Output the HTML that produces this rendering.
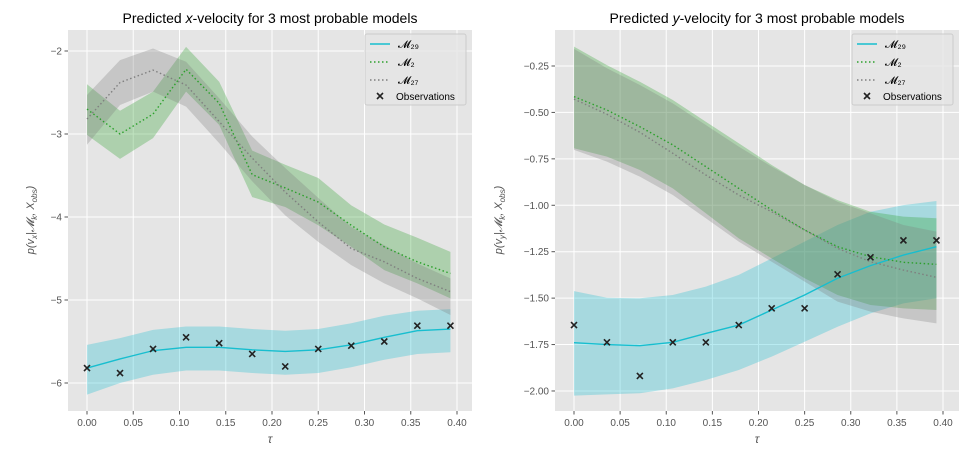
<!DOCTYPE html>
<html><head><meta charset="utf-8"><style>
body{margin:0;background:#fff;font-family:"Liberation Sans","DejaVu Sans",sans-serif}
svg text{font-family:"Liberation Sans","DejaVu Sans",sans-serif}
</style></head><body>
<svg id="chart" width="977" height="450" xmlns="http://www.w3.org/2000/svg"></svg>
<script>
const tau=[0,0.0357,0.0714,0.1071,0.1429,0.1786,0.2143,0.25,0.2857,0.3214,0.3571,0.3929];
const xTicks=[0,0.05,0.1,0.15,0.2,0.25,0.3,0.35,0.4];
const xTickLabels=["0.00","0.05","0.10","0.15","0.20","0.25","0.30","0.35","0.40"];
// left panel
const L_m29=[-5.82,-5.71,-5.61,-5.57,-5.57,-5.60,-5.62,-5.60,-5.54,-5.45,-5.37,-5.35];
const L_m29_hi=[-5.54,-5.46,-5.36,-5.32,-5.32,-5.35,-5.37,-5.35,-5.28,-5.19,-5.13,-5.11];
const L_m29_lo=[-6.14,-6.0,-5.90,-5.85,-5.85,-5.88,-5.90,-5.88,-5.81,-5.72,-5.65,-5.63];
const L_m2=[-2.70,-3.00,-2.76,-2.22,-2.63,-3.49,-3.65,-3.82,-4.10,-4.36,-4.54,-4.68];
const L_m2_hi=[-2.40,-2.72,-2.49,-1.95,-2.37,-3.20,-3.37,-3.53,-3.86,-4.09,-4.25,-4.42];
const L_m2_lo=[-3.01,-3.30,-3.05,-2.49,-2.89,-3.76,-3.88,-4.10,-4.36,-4.64,-4.80,-4.98];
const L_m27=[-2.82,-2.38,-2.23,-2.41,-2.85,-3.29,-3.70,-4.06,-4.38,-4.54,-4.74,-4.90];
const L_m27_hi=[-2.53,-2.11,-1.97,-2.13,-2.57,-3.03,-3.41,-3.77,-4.12,-4.34,-4.56,-4.74];
const L_m27_lo=[-3.13,-2.65,-2.49,-2.67,-3.11,-3.57,-3.98,-4.30,-4.58,-4.80,-4.98,-5.18];
const L_obs=[-5.82,-5.88,-5.59,-5.45,-5.52,-5.65,-5.80,-5.59,-5.55,-5.50,-5.31,-5.31];
const L_yTicks=[-2,-3,-4,-5,-6];
const L_yTickLabels=["−2","−3","−4","−5","−6"];
// right panel
const R_m29=[-1.74,-1.75,-1.756,-1.738,-1.69,-1.645,-1.564,-1.483,-1.393,-1.325,-1.268,-1.223];
const R_m29_hi=[-1.462,-1.498,-1.501,-1.483,-1.438,-1.375,-1.286,-1.196,-1.106,-1.035,-0.999,-0.977];
const R_m29_lo=[-2.025,-2.018,-2.012,-1.986,-1.941,-1.887,-1.815,-1.735,-1.654,-1.582,-1.528,-1.501];
const R_m2=[-0.415,-0.487,-0.577,-0.675,-0.792,-0.909,-1.025,-1.133,-1.223,-1.277,-1.307,-1.318];
const R_m2_hi=[-0.146,-0.245,-0.335,-0.433,-0.55,-0.666,-0.783,-0.891,-0.972,-1.035,-1.061,-1.07];
const R_m2_lo=[-0.693,-0.738,-0.81,-0.909,-1.043,-1.178,-1.286,-1.393,-1.483,-1.537,-1.555,-1.564];
const R_m27=[-0.428,-0.51,-0.607,-0.72,-0.837,-0.945,-1.035,-1.133,-1.232,-1.304,-1.349,-1.388];
const R_m27_hi=[-0.158,-0.262,-0.352,-0.451,-0.568,-0.684,-0.792,-0.891,-0.981,-1.043,-1.106,-1.142];
const R_m27_lo=[-0.702,-0.765,-0.846,-0.945,-1.07,-1.196,-1.304,-1.411,-1.519,-1.573,-1.609,-1.636];
const R_obs=[-1.645,-1.738,-1.919,-1.738,-1.738,-1.645,-1.555,-1.555,-1.372,-1.280,-1.189,-1.189];
const R_yTicks=[-0.25,-0.5,-0.75,-1,-1.25,-1.5,-1.75,-2];
const R_yTickLabels=["−0.25","−0.50","−0.75","−1.00","−1.25","−1.50","−1.75","−2.00"];

const NS="http://www.w3.org/2000/svg";
const svg=document.getElementById('chart');
function mk(tag,attrs,parent){const e=document.createElementNS(NS,tag);for(const k in attrs)e.setAttribute(k,attrs[k]);(parent||svg).appendChild(e);return e;}

function panel(cfg){
  const g=mk('g',{});
  
  
  const X=v=>cfg.x0+(v-0)*cfg.xs, Y=v=>cfg.y0+(cfg.v0-v)*cfg.ys;
  const bg=mk('rect',{x:cfg.ax,y:30,width:cfg.aw,height:381,fill:'#e5e5e5'},g);
  
  xTicks.forEach((t,i)=>{const px=X(t);
    mk('line',{x1:px,x2:px,y1:30,y2:411,stroke:'#fff','stroke-width':1},g);
    mk('line',{x1:px,x2:px,y1:411,y2:414.5,stroke:'#555'},g);
    const tx=mk('text',{x:px,y:426,'font-size':10,fill:'#555','text-anchor':'middle'},g);tx.textContent=xTickLabels[i];
    });
  cfg.yt.forEach((t,i)=>{const py=Y(t);
    mk('line',{x1:cfg.ax,x2:cfg.ax+cfg.aw,y1:py,y2:py,stroke:'#fff'},g);
    mk('line',{x1:cfg.ax-3.5,x2:cfg.ax,y1:py,y2:py,stroke:'#555'},g);
    const tx=mk('text',{x:cfg.ax-6,y:py+3.5,'font-size':10,fill:'#555','text-anchor':'end'},g);tx.textContent=cfg.ytl[i];
    });
  function band(hi,lo,col,name){let d='M'+tau.map((t,i)=>X(t)+','+Y(hi[i])).join('L');
    for(let i=tau.length-1;i>=0;i--)d+='L'+X(tau[i])+','+Y(lo[i]);
    const p=mk('path',{d:d+'Z',fill:col,'fill-opacity':0.3,stroke:'none'},g);
    }
  function line(v,col,dash,name){const p=mk('polyline',{points:tau.map((t,i)=>X(t)+','+Y(v[i])).join(' '),fill:'none',stroke:col,'stroke-width':1.4,'stroke-dasharray':dash},g);
    }
  band(cfg.m29h,cfg.m29l,'#17becf','band-m29');
  band(cfg.m2h,cfg.m2l,'#2ca02c','band-m2');
  band(cfg.m27h,cfg.m27l,'#7f7f7f','band-m27');
  line(cfg.m29,'#17becf','none','line-m29');
  line(cfg.m2,'#2ca02c','1.5,2.5','line-m2');
  line(cfg.m27,'#7f7f7f','1.5,2.5','line-m27');
  cfg.obs.forEach((v,i)=>{const cx=X(tau[i]),cy=Y(v),s=3;
    const p=mk('path',{d:`M${cx-s},${cy-s}L${cx+s},${cy+s}M${cx-s},${cy+s}L${cx+s},${cy-s}`,stroke:'#222','stroke-width':1.6},g);
    });
  const tt=mk('text',{x:cfg.ax+cfg.aw/2,y:23,'font-size':14,fill:'#000','text-anchor':'middle'},g);
  tt.innerHTML=cfg.title;
  const xl=mk('text',{x:cfg.ax+cfg.aw/2,y:443,'font-size':12,fill:'#555','text-anchor':'middle','font-style':'italic'},g);
  xl.textContent='τ';
  const yl=mk('text',{x:0,y:0,'font-size':11,fill:'#555','text-anchor':'middle','font-style':'italic',transform:`translate(${cfg.ylx},220) rotate(-90)`},g);
  yl.innerHTML=cfg.ylab;
  const lx=cfg.ax+cfg.aw-107,ly=34;
  const lg=mk('g',{},g);
  mk('rect',{x:lx,y:ly,width:101,height:71,rx:2,fill:'#e5e5e5',stroke:'#ccc','fill-opacity':0.8},lg);
  const ents=[['#17becf','none','𝓜₂₉'],['#2ca02c','1.5,2.5','𝓜₂'],['#7f7f7f','1.5,2.5','𝓜₂₇']];
  ents.forEach((e,i)=>{const yy=ly+10+i*18;
    mk('line',{x1:lx+5,x2:lx+25,y1:yy,y2:yy,stroke:e[0],'stroke-width':1.4,'stroke-dasharray':e[1]},lg);
    const t=mk('text',{x:lx+33,y:yy+4,'font-size':11,fill:'#000'},lg);t.textContent=e[2];
    });
  const yy=ly+62;
  mk('path',{d:`M${lx+12},${yy-3}L${lx+18},${yy+3}M${lx+12},${yy+3}L${lx+18},${yy-3}`,stroke:'#222','stroke-width':1.6},lg);
  const t=mk('text',{x:lx+31,y:yy+4,'font-size':10,fill:'#000'},lg);t.textContent='Observations';
  
}
panel({name:'x-velocity-panel',ax:68,aw:404,x0:87,xs:925,y0:51,v0:-2,ys:83,yt:L_yTicks,ytl:L_yTickLabels,
  m29:L_m29,m29h:L_m29_hi,m29l:L_m29_lo,m2:L_m2,m2h:L_m2_hi,m2l:L_m2_lo,m27:L_m27,m27h:L_m27_hi,m27l:L_m27_lo,obs:L_obs,
  title:'Predicted <tspan font-style="italic">x</tspan>-velocity for 3 most probable models',ylx:34,
  ylab:'p(v<tspan font-size="8" dy="3">x</tspan><tspan dy="-3">|𝓜</tspan><tspan font-size="8" dy="3">k</tspan><tspan dy="-3">, X</tspan><tspan font-size="8" dy="3">obs</tspan><tspan dy="-3">)</tspan>'});
panel({name:'y-velocity-panel',ax:555,aw:404,x0:574,xs:922.5,y0:66,v0:-0.25,ys:185.7,yt:R_yTicks,ytl:R_yTickLabels,
  m29:R_m29,m29h:R_m29_hi,m29l:R_m29_lo,m2:R_m2,m2h:R_m2_hi,m2l:R_m2_lo,m27:R_m27,m27h:R_m27_hi,m27l:R_m27_lo,obs:R_obs,
  title:'Predicted <tspan font-style="italic">y</tspan>-velocity for 3 most probable models',ylx:502,
  ylab:'p(v<tspan font-size="8" dy="3">y</tspan><tspan dy="-3">|𝓜</tspan><tspan font-size="8" dy="3">k</tspan><tspan dy="-3">, X</tspan><tspan font-size="8" dy="3">obs</tspan><tspan dy="-3">)</tspan>'});
</script>
</body></html>
